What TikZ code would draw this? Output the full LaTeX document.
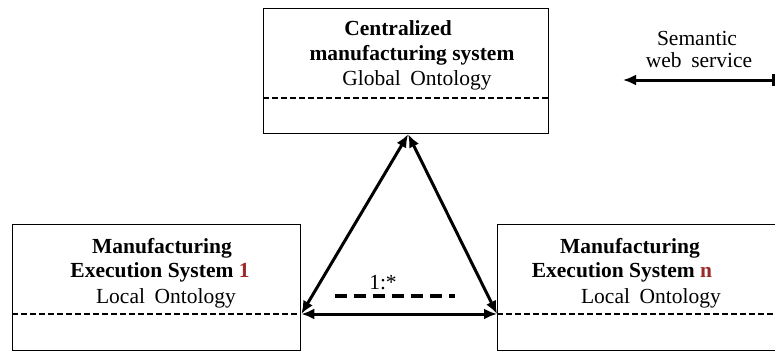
\documentclass[tikz,border=0pt]{standalone}
\usepackage{fontspec}
\setmainfont{Liberation Serif}
\usetikzlibrary{arrows.meta}
\definecolor{darkred}{HTML}{9B2A2A}
\begin{document}
\begin{tikzpicture}[x=1pt,y=-1pt,
  box/.style={draw, line width=1.3pt, rectangle, inner sep=0pt, anchor=north west},
  ttl/.style={font=\fontsize{21.5}{24}\selectfont\bfseries, inner sep=0pt, text height=15pt, text depth=4pt},
  sub/.style={font=\fontsize{21.5}{24}\selectfont, inner sep=0pt, text height=15pt, text depth=4pt},
  sep/.style={line width=1.8pt, dash pattern=on 5.5pt off 3.5pt},
  link/.style={line width=3pt, {Latex[length=13pt,width=11pt]}-{Latex[length=13pt,width=11pt]}},
  mult/.style={line width=4pt, dash pattern=on 12pt off 7pt}
]
\useasboundingbox (0,0) rectangle (775,351);
\fill[white] (0,0) rectangle (775,351);

% boxes
\node[box, minimum width=285pt, minimum height=125pt] (C) at (263,8) {};
\node[box, minimum width=288pt, minimum height=126pt] (L) at (12,224) {};
\node[box, minimum width=290pt, minimum height=126pt] (R) at (497,224) {};

% separators
\coordinate (Cs) at (263,98);
\coordinate (Ls) at (12,314);
\coordinate (Rs) at (497,314);
\draw[sep] (Cs) -- (Cs -| C.east);
\draw[sep] (Ls) -- (Ls -| L.east);
\draw[sep] (Rs) -- (775,314);

% texts
\node[ttl] (c1) at (398,30) {Centralized};
\node[ttl] (c2) at (412,55) {manufacturing system};
\node[sub] (c3) at (417,80) {Global\hspace{0.45em}Ontology};

\node[ttl] (l1) at (162,248) {Manufacturing};
\node[ttl] (l2) at (160,272) {Execution System \textcolor{darkred}{1}};
\node[sub] (l3) at (166,298) {Local\hspace{0.45em}Ontology};

\node[ttl] (r1) at (630,248) {Manufacturing};
\node[ttl] (r2) at (622,272) {Execution System \textcolor{darkred}{n}};
\node[sub] (r3) at (651,298) {Local\hspace{0.45em}Ontology};

\node[sub] (s1) at (697,40) {Semantic};
\node[sub] (s2) at (699,62) {web\hspace{0.45em}service};

% connectors
\coordinate (apex) at ([xshift=2pt]C.south);
\coordinate (lend) at (Ls -| L.east);
\coordinate (rend) at (Rs);
\draw[link] (apex) -- (lend);
\draw[link] (apex) -- (rend);
\draw[link] (lend) -- (rend);

% multiplicity
\node[sub] (m) at (383,284) {1:*};
\coordinate (m1) at (335,296);
\coordinate (m2) at (455,296);
\draw[mult] (m1) -- (m2);

% legend arrow
\coordinate (sa) at (623,80);
\coordinate (sb) at (775,80);
\draw[line width=3pt, {Latex[length=13pt,width=11pt]}-{Bar[width=12pt]}] (sa) -- (sb);
\end{tikzpicture}
\end{document}
